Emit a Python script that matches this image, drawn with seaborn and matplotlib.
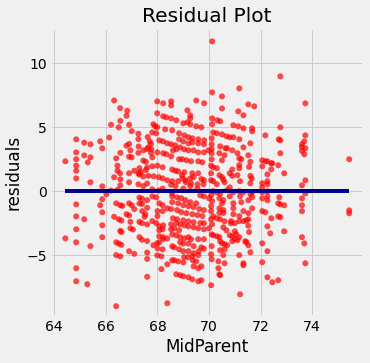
import numpy as np
import pandas as pd
import matplotlib
matplotlib.use("Agg")
import matplotlib.pyplot as plt
import seaborn as sns

# ---- data (MidParent, residual) ----
mp_left = [66.32, 66.55, 66.83, 66.80, 66.56, 66.20, 66.50, 66.90, 67.00, 67.26,
 66.13, 64.85, 65.16, 65.40, 65.78, 65.86, 64.85, 64.85, 64.85, 64.85,
 64.43, 65.16, 65.40, 65.30, 66.40, 66.56, 66.45, 66.45, 66.80, 66.90,
 66.95, 67.26, 67.27, 66.90, 67.00, 67.26, 67.45, 67.10, 67.30, 67.35,
 64.85, 65.40, 65.86, 65.86, 66.02, 64.85, 65.78, 65.86, 64.85, 65.16,
 65.86, 64.85, 64.43, 65.86, 64.85, 65.40, 64.85, 64.85, 65.28, 66.40,
 66.32, 66.55, 66.56, 66.56, 66.90, 67.26, 66.90, 67.26, 66.20, 66.45,
 66.40, 66.56, 66.64, 66.90, 67.00, 66.80, 66.90, 67.10, 66.32, 66.50,
 66.60, 67.30, 67.40, 67.60, 67.30, 67.40, 67.60, 66.95, 66.95, 67.05,
 66.56, 66.60, 67.30, 67.40, 67.60, 67.30, 67.40, 67.60, 66.40, 66.50,
 66.60, 66.90, 67.10, 66.40, 66.56, 67.60, 67.60, 67.60, 67.50,
 67.62, 67.70, 67.75, 67.60, 67.45, 67.75, 67.55, 67.60, 67.30, 67.45, 67.55, 67.65]
res_left = [7.10, 6.50, 6.30, 5.90, 5.50, 5.20, 5.00, 5.20, 4.70, 4.50,
 4.20, 4.06, 3.80, 3.67, 3.90, 3.36, 3.04, 2.50, 2.00, 1.60,
 2.34, 2.80, 2.65, 2.26, 2.57, 3.00, 2.00, 1.60, 3.56, 3.70,
 3.20, 4.08, 3.50, 2.70, 2.65, 3.00, 2.40, 1.60, 1.80, 1.50,
 1.00, 0.70, 0.38, -0.63, -0.24, -1.03, -1.10, -1.65, -1.97, -2.20,
 -2.67, -2.98, -3.69, -3.60, -4.00, -4.30, -6.03, -7.05, -7.28, -9.00,
 1.09, 1.40, 0.46, 0.93, 0.70, 0.54, 1.40, 1.40, 0.05, 0.10,
 -0.95, -1.10, -1.15, -0.95, -1.10, -1.80, -1.90, -1.40, -2.00, -2.20,
 -2.30, -0.50, -0.60, -0.70, -0.95, -1.00, -1.30, -2.40, -2.90, -3.00,
 -3.10, -3.20, -2.40, -2.50, -2.60, -3.60, -3.80, -3.90, -4.00, -4.10,
 -4.20, -4.70, -4.90, -5.00, -5.10, -4.80, -5.30, -6.70, -2.00,
 4.24, 3.90, 3.70, 3.30, 3.20, 3.00, 2.30, 1.85, 1.30, 1.15, 1.65, 1.20]

mp_cu = [70.12, 70.12, 69.50, 69.81, 68.53, 68.53, 67.99, 68.22, 67.99, 69.16,
 69.27, 69.27, 70.12, 68.22, 68.34, 68.53, 68.73, 70.12, 69.00, 69.16,
 69.27, 69.50, 69.70, 67.84, 67.91, 67.99, 67.80, 67.95, 68.30, 68.57,
 68.84, 69.04, 69.20, 69.35, 69.58, 69.81, 70.10, 70.10, 68.84, 69.00,
 69.20, 69.35, 69.58, 69.80, 67.64, 67.76, 68.07, 68.22, 68.38, 68.53,
 67.99, 68.22, 68.34, 68.53, 68.60, 68.73, 68.69, 68.88, 69.04, 69.20,
 69.40, 69.58, 69.80, 67.80, 68.84, 68.96, 69.12, 69.30, 69.58, 69.74,
 67.80, 68.00, 68.20, 68.57, 68.69, 68.80, 69.04, 69.35, 69.58, 67.85,
 68.05, 68.20, 68.38, 68.57, 68.80, 69.10, 69.30, 69.55, 69.80, 69.78,
 68.97, 69.08, 69.27, 70.08, 70.08, 70.08, 70.10, 70.10, 70.10, 69.98,
 67.80, 68.05, 68.57, 68.20, 68.53, 68.70, 69.00, 69.27, 69.55, 68.95,
 69.40, 69.70, 67.45, 67.60]
res_cu = [11.73, 7.74, 7.10, 6.88, 7.03, 6.72, 7.03, 6.88, 6.10, 6.33,
 5.94, 5.70, 5.70, 5.86, 5.78, 5.70, 5.55, 5.24, 5.31, 5.39,
 5.24, 5.08, 5.00, 5.24, 5.08, 5.00, 4.60, 4.53, 4.84, 4.77,
 4.53, 4.37, 4.22, 4.14, 4.06, 3.98, 4.14, 3.67, 4.06, 3.90,
 3.75, 3.82, 3.75, 3.67, 3.43, 3.28, 3.98, 3.90, 3.75, 3.67,
 3.04, 2.97, 2.89, 2.73, 3.20, 3.28, 3.59, 3.43, 3.28, 3.20,
 3.20, 3.04, 3.04, 2.65, 2.50, 2.50, 2.42, 2.34, 2.34, 2.26,
 1.95, 2.00, 1.87, 1.70, 1.60, 1.55, 1.48, 1.40, 1.40, 1.17,
 1.10, 1.00, 0.86, 0.78, 0.78, 0.70, 0.62, 0.54, 0.86, 0.54,
 1.00, 0.86, 1.00, 0.86, 2.00, 1.40, 2.50, 2.97, 3.28, 3.20,
 0.15, 0.05, -0.16, 0.20, 0.50, 0.40, 0.20, 0.40, 0.20, 1.25,
 1.10, 0.95, 0.40, 0.60]

mp_ru = [70.50, 71.17, 70.50, 71.13, 71.33, 71.52, 71.75, 70.32, 70.43, 70.94,
 71.13, 71.33, 71.67, 71.67, 70.16, 70.30, 70.50, 70.67, 70.80, 70.94,
 71.17, 71.60, 71.33, 70.43, 70.63, 70.70, 70.90, 70.40, 70.60, 70.50,
 71.10, 71.52, 71.17, 71.25, 71.60, 71.55, 71.17, 72.76, 73.73, 72.76,
 72.18, 73.73, 72.70, 72.76, 73.69, 73.60, 73.60, 73.73, 73.60, 73.69,
 72.76, 75.43, 72.06, 72.18, 72.26, 72.41, 72.45, 72.06, 72.68, 72.41,
 72.26, 72.91, 70.16, 70.30, 70.90, 70.80, 70.90, 71.10, 71.17, 71.60,
 71.65, 70.40, 70.50, 70.60, 70.55, 70.16, 71.20, 71.60, 72.26, 72.06,
 70.80, 73.73, 73.60, 72.06, 72.26, 70.30]
res_ru = [7.42, 8.05, 6.48, 6.25, 5.94, 6.80, 6.64, 5.55, 5.47, 5.16,
 5.08, 4.92, 4.92, 4.69, 4.60, 4.53, 4.45, 4.30, 4.22, 4.22,
 4.06, 3.75, 3.43, 3.51, 3.36, 3.36, 3.20, 2.97, 2.81, 2.42,
 2.97, 2.81, 2.57, 2.50, 2.30, 1.90, 2.05, 8.99, 6.88, 5.00,
 4.37, 4.37, 4.06, 3.98, 3.90, 3.67, 3.46, 3.36, 3.15, 2.89,
 2.97, 2.50, 2.42, 2.34, 2.34, 2.18, 2.18, 1.95, 2.03, 1.71,
 1.32, 1.40, 1.87, 1.80, 1.70, 1.40, 1.20, 1.25, 1.80, 1.20,
 1.00, 1.25, 1.10, 0.70, 0.90, 0.78, 0.78, 0.62, 0.55, 0.30,
 0.30, 0.85, 0.46, 0.62, 0.78, 0.55]

mp_cl = [68.38, 70.08, 69.58, 69.70, 68.73, 68.88, 69.00, 69.20, 69.35, 68.15,
 68.38, 68.57, 68.65, 68.80, 69.00, 69.03, 69.18, 69.37, 69.50, 69.40,
 69.58, 69.70, 70.08, 70.10, 67.99, 68.15, 67.84, 67.99, 68.00, 68.20,
 68.07, 68.22, 68.38, 68.57, 68.65, 68.84, 69.00, 69.20, 69.40, 69.58,
 69.35, 69.80, 69.70, 69.60, 68.57, 68.73, 68.88, 69.04, 69.20, 69.30,
 69.58, 69.80, 68.88, 69.00, 69.20, 69.40, 68.07, 68.22, 68.07, 68.22,
 68.20, 68.07, 67.80, 67.95, 68.00, 68.00, 68.53, 68.73, 68.88, 69.04,
 69.20, 69.40, 69.58, 69.80, 68.53, 68.65, 68.84, 68.60, 68.76, 69.00,
 69.20, 69.40, 69.66, 69.80, 70.00, 70.10, 70.10, 67.41, 67.53, 67.80,
 67.95, 68.07, 68.20, 68.38, 68.53, 68.20, 68.57, 68.76, 68.92, 69.08,
 69.27, 69.50, 68.76, 68.92, 69.12, 69.35, 69.55, 69.74, 68.57, 68.80,
 69.00, 69.20, 69.40, 69.62, 69.80, 69.66, 69.80, 70.00, 70.08, 70.12,
 70.08, 70.08, 70.08, 70.12]
res_cl = [-8.77, -7.36, -7.05, -6.97, -6.50, -6.58, -6.66, -6.74, -6.90, -6.10,
 -5.72, -5.41, -5.41, -5.49, -5.57, -5.17, -5.17, -5.40, -5.50, -5.88,
 -6.03, -5.88, -4.94, -5.33, -5.02, -5.10, -4.23, -4.08, -4.47, -4.55,
 -4.00, -3.76, -3.69, -4.31, -4.39, -4.55, -4.70, -4.70, -4.86, -5.00,
 -5.09, -4.50, -4.40, -4.70, -3.38, -3.45, -3.60, -3.69, -3.60, -3.76,
 -3.76, -3.76, -4.00, -4.10, -4.10, -4.30, -3.53, -3.60, -2.75, -2.67,
 -2.98, -3.06, -2.34, -2.50, -1.95, -1.56, -2.59, -2.51, -2.59, -2.67,
 -2.75, -2.83, -2.90, -2.98, -2.98, -2.90, -3.06, -2.12, -2.20, -2.28,
 -2.36, -2.43, -2.50, -2.50, -2.90, -3.38, -4.30, -1.56, -1.80, -0.40,
 -0.48, -0.95, -1.10, -1.34, -1.40, -1.56, -0.40, -0.48, -0.55, -0.70,
 -0.86, -0.95, -1.48, -1.64, -1.72, -1.80, -1.87, -1.95, -0.86, -0.95,
 -1.10, -1.17, -1.25, -1.40, -1.48, -0.32, -0.40, -0.55, -0.32, -0.78,
 -1.17, -1.56, -2.20, -2.59]

mp_rl = [71.20, 70.40, 70.43, 70.36, 70.36, 70.60, 70.55, 70.60, 70.43, 71.17,
 71.33, 71.33, 71.60, 71.52, 71.67, 71.52, 71.52, 71.55, 70.43, 70.50,
 70.60, 70.70, 70.16, 70.30, 70.40, 70.55, 70.67, 70.80, 70.90, 70.90,
 71.00, 71.10, 70.85, 71.00, 71.05, 71.17, 71.40, 71.45, 70.16, 70.30,
 70.43, 70.60, 70.55, 70.40, 70.40, 70.55, 70.55, 70.40, 70.50, 70.94,
 70.94, 71.17, 71.33, 70.85, 71.00, 71.17, 71.33, 71.45, 71.52, 71.60,
 71.67, 71.67, 71.52, 71.20, 71.25, 71.33, 71.17, 70.80, 70.94, 70.94,
 70.70, 70.16, 70.30, 70.43, 72.06, 72.26, 73.73, 72.06, 72.26, 72.72,
 73.60, 72.68, 72.76, 72.91, 73.60, 75.43, 75.43, 72.06, 72.18, 73.60,
 72.41, 72.68, 72.76, 72.26, 72.91, 72.37, 73.60, 73.69, 72.06, 72.26,
 72.06, 73.73, 72.26, 72.45, 72.68, 72.26]
res_rl = [-8.07, -6.50, -6.58, -5.49, -6.03, -5.64, -5.00, -4.55, -4.62, -5.00,
 -5.64, -5.80, -4.78, -4.23, -1.34, -2.20, -2.70, -3.20, -3.92, -4.08,
 -4.15, -4.23, -3.45, -3.53, -3.60, -2.83, -3.06, -3.45, -3.53, -3.92,
 -3.76, -3.84, -2.51, -3.14, -3.37, -3.60, -3.92, -4.00, -1.97, -2.12,
 -2.20, -2.36, -1.70, -1.70, -1.34, -1.48, -0.70, -0.55, -0.95, -1.34,
 -1.80, -1.95, -1.56, -2.34, -2.50, -2.34, -2.34, -2.28, -1.72, -0.24,
 -0.08, -0.47, -0.70, -0.40, -0.86, -0.08, 0.00, -0.40, -0.95, -0.08,
 0.08, 0.00, -0.10, -0.20, -0.09, -0.01, -0.17, -0.56, -0.71, -0.48,
 -0.56, -0.95, -1.03, -1.10, -1.10, -1.50, -1.73, -1.56, -1.65, -1.56,
 -2.12, -1.97, -2.04, -2.75, -3.14, -3.30, -3.60, -4.08, -4.08, -4.70,
 -5.56, -5.64, -6.74, -7.13, -6.97, -0.40]

title = "Residual Plot"
xlabel = "MidParent"
ylabel = "residuals"

midparent = mp_left + mp_cu + mp_ru + mp_cl + mp_rl
residuals = res_left + res_cu + res_ru + res_cl + res_rl
df = pd.DataFrame({"MidParent": midparent, "residuals": residuals})
df["zero"] = 0.0

plt.style.use("fivethirtyeight")
W, H, DPI = 370, 363, 72
fig = plt.figure(figsize=(W / DPI, H / DPI), dpi=DPI)
ax = fig.add_axes([50.4 / W, (H - 316.4) / H, (363.4 - 50.4) / W, (316.4 - 28.3) / H])

sns.scatterplot(data=df, x="MidParent", y="residuals", color="red", alpha=0.7,
                s=36, linewidth=0, edgecolor="none", ax=ax, zorder=3)
sns.lineplot(data=df, x="MidParent", y="zero", color="darkblue", linewidth=4,
             estimator=None, ax=ax, zorder=4)

ax.set_xlim(63.85, 75.98)
ax.set_ylim(-9.8, 12.75)
ax.set_xticks([64, 66, 68, 70, 72, 74])
ax.set_yticks([-5, 0, 5, 10])
ax.set_title(title)
ax.set_xlabel(xlabel)
ax.set_ylabel(ylabel)

fig.savefig("out.png", dpi=DPI)
